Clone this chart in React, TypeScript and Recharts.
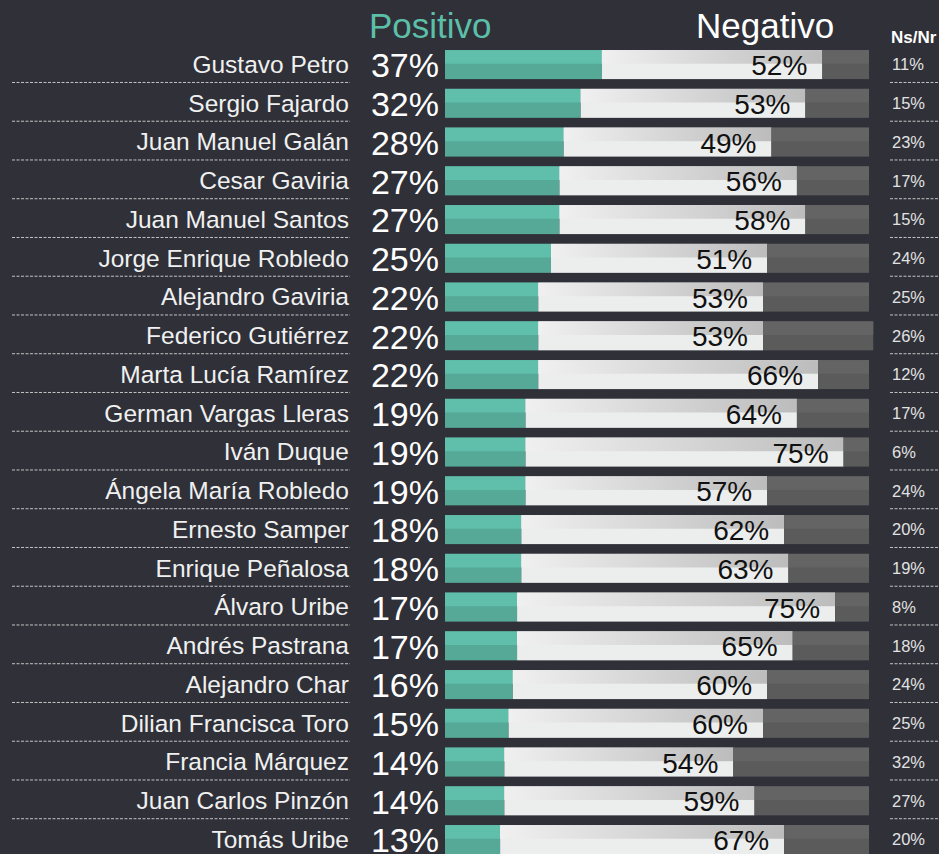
import React from "react";
import { Bar, BarChart, LabelList, XAxis, YAxis } from "recharts";

const NAMES = [
  "Gustavo Petro",
  "Sergio Fajardo",
  "Juan Manuel Galán",
  "Cesar Gaviria",
  "Juan Manuel Santos",
  "Jorge Enrique Robledo",
  "Alejandro Gaviria",
  "Federico Gutiérrez",
  "Marta Lucía Ramírez",
  "German Vargas Lleras",
  "Iván Duque",
  "Ángela María Robledo",
  "Ernesto Samper",
  "Enrique Peñalosa",
  "Álvaro Uribe",
  "Andrés Pastrana",
  "Alejandro Char",
  "Dilian Francisca Toro",
  "Francia Márquez",
  "Juan Carlos Pinzón",
  "Tomás Uribe",
];
const POSITIVO = [37, 32, 28, 27, 27, 25, 22, 22, 22, 19, 19, 19, 18, 18, 17, 17, 16, 15, 14, 14, 13];
const NEGATIVO = [52, 53, 49, 56, 58, 51, 53, 53, 66, 64, 75, 57, 62, 63, 75, 65, 60, 60, 54, 59, 67];
const NSNR = [11, 15, 23, 17, 15, 24, 25, 26, 12, 17, 6, 24, 20, 19, 8, 18, 24, 25, 32, 27, 20];

const data = NAMES.map((name, i) => ({
  name,
  pos: POSITIVO[i],
  neg: NEGATIVO[i],
  ns: NSNR[i],
}));

const BG = "#2f3038";
const FONT = "'Liberation Sans', Arial, sans-serif";

// each bar is drawn as two stripes: lighter top, darker bottom
const splitShape = (top: string, bottom: string) => (props: any) => {
  const { x, y, width, height } = props;
  if (!width || width <= 0) return null;
  const h1 = height * 0.47;
  return (
    <g>
      <rect x={x} y={y} width={width} height={height} fill={bottom} />
      <rect x={x} y={y} width={width} height={h1} fill={top} />
    </g>
  );
};

const NameTick = (props: any) => {
  const { y, payload } = props;
  const row = data.find((d) => d.name === payload.value);
  return (
    <g fontFamily={FONT}>
      <text x={349} y={y} textAnchor="end" dominantBaseline="central" fill="#f0f0f0" fontSize={24.5}>
        {payload.value}
      </text>
      <text x={439} y={y + 1} textAnchor="end" dominantBaseline="central" fill="#ffffff" fontSize={34}>
        {row ? row.pos : ""}%
      </text>
      <line x1={12} x2={350} y1={y + 18} y2={y + 18} stroke="#c4c4c4" strokeDasharray="3 1.5" />
    </g>
  );
};

const NsTick = (props: any) => {
  const { y, payload } = props;
  const row = data.find((d) => d.name === payload.value);
  return (
    <g fontFamily={FONT}>
      <text x={892} y={y} textAnchor="start" dominantBaseline="central" fill="#e2e2e2" fontSize={16.5}>
        {row ? row.ns : ""}%
      </text>
      <line x1={890} x2={939} y1={y + 18} y2={y + 18} stroke="#c4c4c4" strokeDasharray="3 1.5" />
    </g>
  );
};

const NegLabel = (props: any) => {
  const { x, y, width, height, value } = props;
  return (
    <text
      x={x + width - 15}
      y={y + height / 2 + 1}
      textAnchor="end"
      dominantBaseline="central"
      fontSize={28}
      fontFamily={FONT}
      fill="#111111"
    >
      {value}%
    </text>
  );
};

export default function App() {
  return (
    <div
      style={{
        position: "fixed",
        left: 0,
        top: 0,
        width: 939,
        height: 854,
        overflow: "hidden",
        background: BG,
        fontFamily: FONT,
      }}
    >
      <BarChart
        width={939}
        height={860}
        data={data}
        layout="vertical"
        margin={{ top: 45.1, right: 0, bottom: 1.15, left: 0 }}
        barSize={29}
      >
        <defs>
          <linearGradient id="negGrad" x1="0" y1="0" x2="1" y2="0">
            <stop offset="0%" stopColor="#f0f0f0" />
            <stop offset="100%" stopColor="#bcbcbc" />
          </linearGradient>
        </defs>
        <XAxis type="number" domain={[0, 101]} hide />
        <YAxis
          yAxisId="l"
          type="category"
          dataKey="name"
          width={445}
          axisLine={false}
          tickLine={false}
          tick={NameTick}
          interval={0}
        />
        <YAxis
          yAxisId="r"
          orientation="right"
          type="category"
          dataKey="name"
          width={65.76}
          axisLine={false}
          tickLine={false}
          tick={NsTick}
          interval={0}
        />
        <Bar yAxisId="l" dataKey="pos" stackId="a" isAnimationActive={false} shape={splitShape("#5fbfab", "#56a897")} />
        <Bar yAxisId="l" dataKey="neg" stackId="a" isAnimationActive={false} shape={splitShape("url(#negGrad)", "#eceded")}>
          <LabelList dataKey="neg" content={NegLabel} />
        </Bar>
        <Bar yAxisId="l" dataKey="ns" stackId="a" isAnimationActive={false} shape={splitShape("#646464", "#5b5b5b")} />
      </BarChart>
      <svg width={939} height={60} style={{ position: "absolute", left: 0, top: 0 }} fontFamily={FONT}>
        <text x={369} y={38} fontSize={35} fill="#5cbfa8">
          Positivo
        </text>
        <text x={696} y={38} fontSize={35} fill="#ffffff">
          Negativo
        </text>
        <text x={891} y={43} fontSize={17} fontWeight="bold" fill="#ffffff">
          Ns/Nr
        </text>
      </svg>
    </div>
  );
}
